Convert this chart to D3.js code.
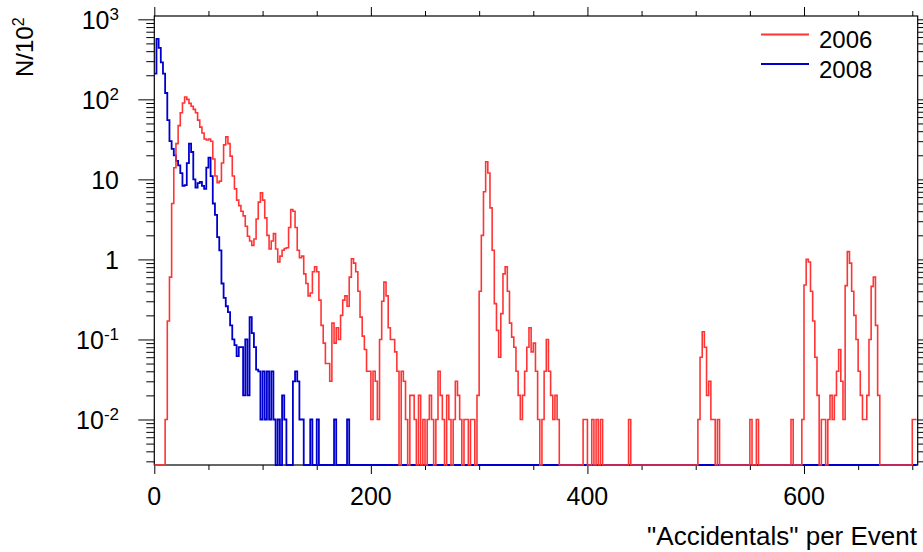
<!DOCTYPE html>
<html><head><meta charset="utf-8">
<script src="https://cdn.jsdelivr.net/npm/d3@7"></script>
<style>
html,body{margin:0;padding:0;background:#fff;}
svg{display:block;font-family:"Liberation Sans",Arial,sans-serif;}
</style></head>
<body><svg id="c" width="923" height="552"></svg>
<script>
// ---- data (N/10^2 per 2-unit bin, bin start = 2*i) ----
const binWidth = 2;
const series2006 = [
 0,0,0,0,0,0.01,0.17,0.6,5,14,
 28,47,68,90,107,100,89,82,75,68,
 55,45,38,32,31,32,30,18,11,9.1,
 9.5,16,27,34,28,19.5,11,7.6,5.5,4.7,
 4,3.5,2.6,1.95,1.7,1.5,1.8,3.2,5.2,6.8,
 5.5,3.3,2,1.35,1.7,2.1,1.35,0.93,1.1,1.3,
 1.37,1.4,2.5,4.2,4.0,2.5,1.3,1.05,1.1,0.66,
 0.5,0.35,0.38,0.7,0.81,0.7,0.31,0.15,0.09,0.05,
 0.05,0.03,0.16,0.09,0.14,0.1,0.2,0.31,0.35,0.26,
 0.6,1.02,0.9,0.7,0.4,0.19,0.11,0.075,0.04,0.04,
 0.01,0.04,0.03,0.01,0.1,0.3,0.52,0.35,0.14,0.1,
 0.1,0.07,0.04,0,0.04,0.03,0.01,0,0.02,0.02,
 0.01,0,0.02,0,0.01,0,0.01,0.02,0.01,0,
 0.01,0.04,0.02,0.01,0,0.02,0.01,0,0.01,0.03,
 0.02,0.01,0,0.01,0.01,0,0.01,0.01,0,0.02,
 0.4,2.0,7,16.6,12,4.4,1.3,0.28,0.13,0.06,
 0.21,0.66,0.81,0.4,0.16,0.107,0.08,0.04,0.02,0.01,
 0.02,0.04,0.08,0.14,0.07,0.09,0.04,0.01,0,0.01,
 0.04,0.1,0.04,0.02,0.01,0.02,0.01,0,0,0,
 0,0,0,0,0,0,0,0,0.01,0.01,
 0,0,0.01,0,0.01,0,0.01,0,0,0,
 0,0,0,0,0,0,0,0,0,0.01,
 0,0,0,0,0,0,0,0,0,0,
 0,0,0,0,0,0,0,0,0,0,
 0,0,0,0,0,0,0,0,0,0,
 0,0.01,0.06,0.125,0.08,0.02,0.03,0.01,0.01,0,
 0.01,0,0,0,0,0,0,0,0,0,
 0,0,0,0,0,0.01,0,0,0.01,0,
 0,0,0,0,0,0,0,0,0,0,
 0,0,0,0,0.01,0,0,0,0,0.01,
 0.48,1.0,0.93,0.4,0.17,0.06,0.02,0,0.01,0.01,
 0,0.01,0.02,0.01,0.02,0.04,0.075,0.03,0.01,0.47,
 1.25,0.9,0.4,0.2,0.1,0.04,0.02,0.01,0.01,0.02,
 0.1,0.46,0.6,0.15,0.02,0,0,0,0,0,
 0,0,0,0,0,0,0,0,0,0,
 0.01,0.01
];
const series2008 = [
 210,570,440,290,210,120,55,30,24,20,
 17,15,12,8.3,8.5,16,28,22,10,7.9,
 9,9.3,8.3,7.6,14,18.7,11,5,3.6,1.9,
 1.3,0.5,0.33,0.26,0.22,0.15,0.1,0.085,0.062,0.08,
 0.08,0.02,0.1,0.02,0.19,0.12,0.08,0.042,0.04,0.01,
 0.04,0.01,0.04,0.01,0.04,0.01,0,0.01,0,0.02,
 0.01,0,0,0,0.03,0.04,0.03,0.01,0.01,0,
 0,0,0.01,0,0,0.01,0,0,0,0,
 0,0,0,0.01,0,0,0,0,0,0.01
];
const seriesNames = ["2006","2008"];
const seriesColors = ["#ff3535","#0000cc"];
const xMajorTicks = [0,200,400,600];
const xMinorTicks = [50,100,150,250,300,350,450,500,550,650,700];
const yMajorTicks = [0.01,0.1,1,10,100,1000];
const yMajorLabels = [["10","-2"],["10","-1"],["1",""],["10",""],["10","2"],["10","3"]];
const xTitle = "\"Accidentals\" per Event";
const yTitleMain = "N/10", yTitleSup = "2";

// ---- layout ----
const L = 154.3, R = 917.7, T = 16, B = 465;
const svg = d3.select("#c");
const x = d3.scaleLinear().domain([0,705]).range([L,R]);
const y = d3.scaleLog().domain([0.0027,1100]).range([B,T]).clamp(true);

const yMinor = [];
for (let e=-3; e<=3; e++) for (let m=2; m<=9; m++) {
  const v = m*Math.pow(10,e);
  if (v>=0.0027 && v<=1100) yMinor.push(v);
}

function axisG(gen, tr){
  const g = svg.append("g").attr("transform",tr).call(gen);
  g.select(".domain").remove();
  g.selectAll("line").attr("stroke","#000").attr("stroke-width",1);
  g.selectAll("text").remove();
  return g;
}
// bottom
axisG(d3.axisBottom(x).tickValues(xMajorTicks).tickSize(9),`translate(0,${B})`);
axisG(d3.axisBottom(x).tickValues(xMinorTicks).tickSize(5),`translate(0,${B})`);
// top
axisG(d3.axisTop(x).tickValues(xMajorTicks).tickSize(9),`translate(0,${T})`);
axisG(d3.axisTop(x).tickValues(xMinorTicks).tickSize(5),`translate(0,${T})`);
// left
axisG(d3.axisLeft(y).tickValues(yMajorTicks).tickSize(16),`translate(${L},0)`);
axisG(d3.axisLeft(y).tickValues(yMinor).tickSize(8),`translate(${L},0)`);
// right
axisG(d3.axisRight(y).tickValues(yMajorTicks).tickSize(16),`translate(${R},0)`);
axisG(d3.axisRight(y).tickValues(yMinor).tickSize(8),`translate(${R},0)`);

// frame
svg.append("rect").attr("x",L).attr("y",T).attr("width",R-L).attr("height",B-T)
  .attr("fill","none").attr("stroke","#000").attr("stroke-width",1.2);

// x labels
svg.append("g").selectAll("text").data(xMajorTicks).join("text")
  .attr("x",d=>x(d)).attr("y",505).attr("text-anchor","middle")
  .attr("font-size",25).attr("fill","#000").text(d=>d);
// y labels
const yl = svg.append("g").selectAll("text").data(yMajorTicks).join("text")
  .attr("x",119).attr("y",d=>y(d)+10).attr("text-anchor","end")
  .attr("font-size",25).attr("fill","#000");
yl.each(function(d,i){
  const t = d3.select(this);
  t.append("tspan").text(yMajorLabels[i][0]);
  if (yMajorLabels[i][1]) t.append("tspan").attr("font-size",17).attr("dy",-9).text(yMajorLabels[i][1]);
});
// titles
svg.append("text").attr("x",917).attr("y",545).attr("text-anchor","end")
  .attr("font-size",26).attr("fill","#000").text(xTitle);
const yt = svg.append("text").attr("transform","translate(33,77) rotate(-90)")
  .attr("font-size",24).attr("fill","#000");
yt.append("tspan").text(yTitleMain);
yt.append("tspan").attr("font-size",16).attr("dy",-9).text(yTitleSup);

// histograms
const line = d3.line().curve(d3.curveStepAfter)
  .x(d=>x(d[0])).y(d=>d[1]>0 ? y(d[1]) : B);
function steps(arr){
  const pts = arr.map((v,i)=>[i*binWidth,v]);
  pts.push([arr.length*binWidth, arr[arr.length-1]]);
  return pts;
}
const blueFull = series2008.concat(new Array(series2006.length-series2008.length).fill(0));
svg.append("path").attr("d",line(steps(blueFull))).attr("fill","none")
  .attr("stroke",seriesColors[1]).attr("stroke-width",1.8).attr("stroke-linejoin","miter");
svg.append("path").attr("d",line(steps(series2006))).attr("fill","none")
  .attr("stroke",seriesColors[0]).attr("stroke-width",1.6).attr("stroke-linejoin","miter");

// legend
const lg = svg.append("g");
[0,1].forEach(i=>{
  const yy = 34.5 + i*29.5;
  lg.append("line").attr("x1",761).attr("x2",809).attr("y1",yy).attr("y2",yy)
    .attr("stroke",seriesColors[i]).attr("stroke-width",1.8);
  lg.append("text").attr("x",819).attr("y",yy+13.5).attr("font-size",24)
    .attr("fill","#000").text(seriesNames[i]);
});
</script></body></html>
